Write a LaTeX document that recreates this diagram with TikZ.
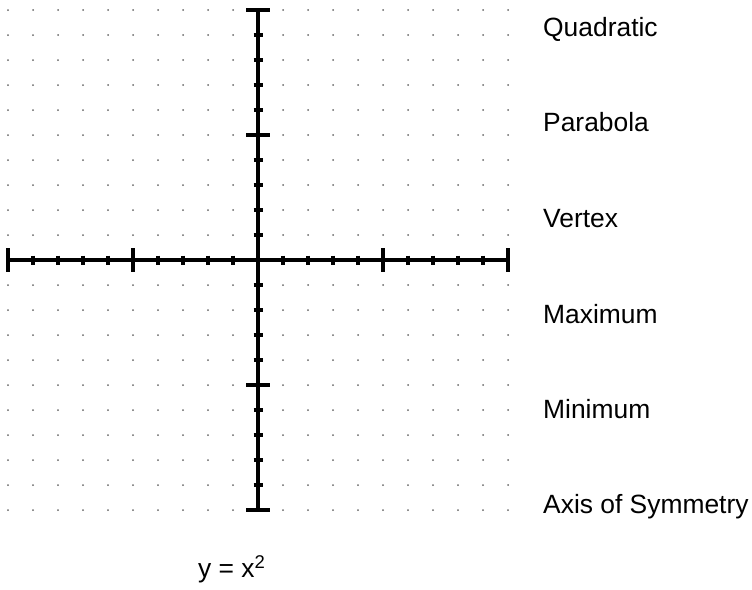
\documentclass[tikz,border=0pt]{standalone}
\usepackage{fontspec}
\setmainfont{Liberation Sans}
\begin{document}
\begin{tikzpicture}[x=1pt,y=-1pt,
  lbl/.style={font=\fontsize{26.4}{31}\selectfont, anchor=base west, inner sep=0pt},
  axisline/.style={line width=3.2pt, black},
  griddot/.style={fill=black!60}]
\useasboundingbox (0,0) rectangle (752,589);
% dot grid
\foreach \i in {0,...,20}
  \foreach \j in {0,...,20}
    \fill[griddot] (8+25*\i,10+25*\j) circle (1);
% axes
\coordinate (O) at (258,260);
\coordinate (L) at (8,260);
\coordinate (R) at (508,260);
\coordinate (T) at (258,10);
\coordinate (B) at (258,510);
\draw[axisline] (L) -- (R);
\draw[axisline] (T) -- (B);
% minor ticks
\foreach \k in {-9,...,9} {
  \draw[axisline] ([shift={(25*\k,-4.5)}]O) -- ([shift={(25*\k,4.5)}]O);
  \draw[axisline] ([shift={(-4.5,25*\k)}]O) -- ([shift={(4.5,25*\k)}]O);
}
% major ticks
\foreach \k in {-10,-5,5,10} {
  \draw[axisline] ([shift={(25*\k,-12)}]O) -- ([shift={(25*\k,12)}]O);
  \draw[axisline] ([shift={(-12,25*\k)}]O) -- ([shift={(12,25*\k)}]O);
}
% labels
\node[lbl] (q) at (543,36) {Quadratic};
\node[lbl] (p) at (543,131.5) {Parabola};
\node[lbl] (v) at (543,227.5) {Vertex};
\node[lbl] (mx) at (543,323) {Maximum};
\node[lbl] (mn) at (543,418) {Minimum};
\node[lbl] (ax) at (543,513.5) {Axis of Symmetry};
\node[lbl] (eq) at (198,577.5) {y = x\textsuperscript{2}};
\end{tikzpicture}
\end{document}
